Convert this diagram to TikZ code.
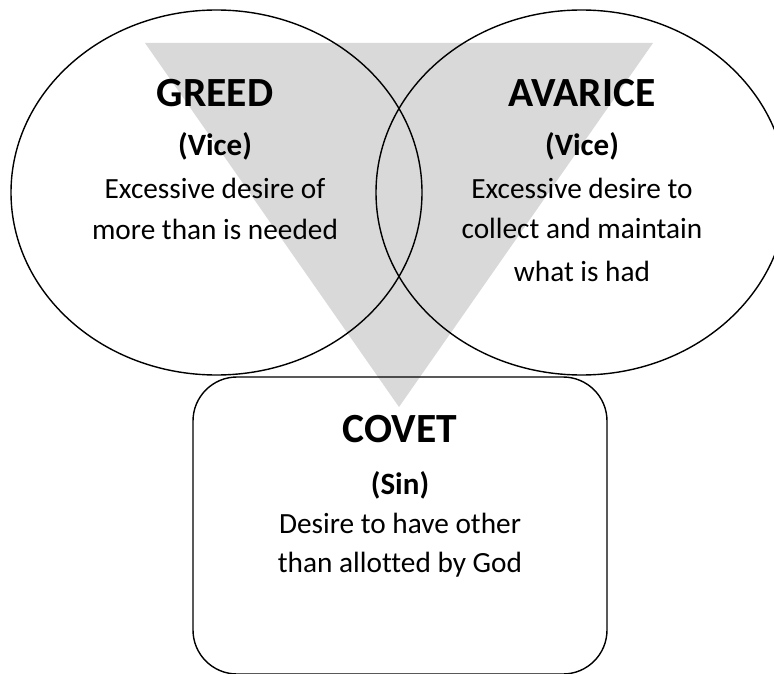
\documentclass[tikz,border=0pt]{standalone}
\usepackage{fontspec}
\setmainfont{Carlito}[Ligatures=NoCommon]
\usetikzlibrary{shapes.geometric}
\definecolor{trigray}{RGB}{217,217,217}
\tikzset{
  outline/.style={draw=black, line width=1.4pt},
  oval/.style={outline, ellipse, minimum width=411pt, minimum height=365pt, inner sep=0pt},
  roundbox/.style={outline, rectangle, rounded corners=44pt, minimum width=414pt, minimum height=297pt, inner sep=0pt},
  title/.style={anchor=base, inner sep=0pt, font=\fontsize{41.5}{48}\selectfont\bfseries},
  kind/.style={anchor=base, inner sep=0pt, font=\fontsize{31}{36}\selectfont\bfseries},
  body/.style={anchor=base, inner sep=0pt, font=\fontsize{29.3}{34}\selectfont}
}
\begin{document}
\begin{tikzpicture}[x=1pt,y=-1pt]
\useasboundingbox (0,0) rectangle (774,674);
\clip (0,0) rectangle (774,674);
% background triangle
\fill[trigray] (145,43) -- (653,43) -- (399,407) -- cycle;
% shapes
\node[oval] (greed) at (216.5,192.5) {};
\node[oval] (avarice) at (581.5,192.5) {};
\node[roundbox] (covet) at (400,525.5) {};
% GREED texts
\node[title] (gt) at (215,107) {GREED};
\node[kind] (gk) at (215,156) {(Vice)};
\node[body] (g1) at (215,198) {Excessive desire of};
\node[body] (g2) at (215,239) {more than is needed};
% AVARICE texts
\node[title] (at) at (582,107) {AVARICE};
\node[kind] (ak) at (582,156) {(Vice)};
\node[body] (a1) at (582,198) {Excessive desire to};
\node[body] (a2) at (582,238) {collect and maintain};
\node[body] (a3) at (582,281) {what is had};
% COVET texts
\node[title] (ct) at (400,442) {COVET};
\node[kind] (ck) at (400,494) {(Sin)};
\node[body] (c1) at (400,533) {Desire to have other};
\node[body] (c2) at (400,572) {than allotted by God};
\end{tikzpicture}
\end{document}
